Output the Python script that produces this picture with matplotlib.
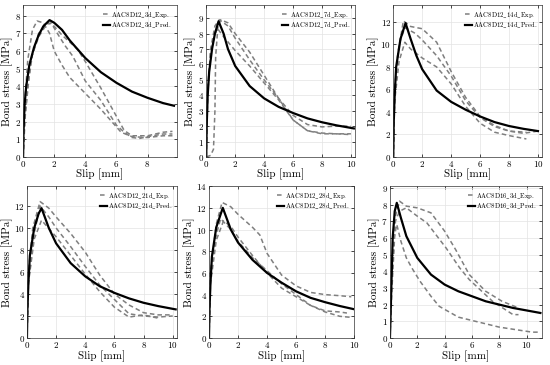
import matplotlib.pyplot as plt

plt.rcParams['font.family'] = ['cmr10', 'DejaVu Serif']
plt.rcParams['mathtext.fontset'] = 'cm'
plt.rcParams['axes.formatter.use_mathtext'] = True

# ---- panel 1: AAC8D12 3d ----
p1_pred_x = [0, 0.03, 0.1, 0.2, 0.4, 0.7, 1.0, 1.3, 1.7, 2.0, 2.5, 3.0, 4.0, 5.0, 6.0, 7.0, 8.0, 9.0, 9.7]
p1_pred_y = [0, 1.5, 3.0, 4.0, 5.2, 6.2, 6.9, 7.4, 7.75, 7.6, 7.2, 6.6, 5.6, 4.8, 4.2, 3.7, 3.35, 3.05, 2.9]
p1_e1_x = [0, 0.1, 0.3, 0.6, 0.9, 1.3, 1.7, 2.0, 2.5, 3.0, 4.0, 5.0, 5.8, 6.3, 7.0, 8.0, 9.0, 9.6]
p1_e1_y = [0, 3.0, 5.5, 7.2, 7.7, 7.6, 7.0, 6.0, 5.2, 4.5, 3.6, 2.7, 1.9, 1.4, 1.15, 1.1, 1.2, 1.2]
p1_e2_x = [0, 0.1, 0.3, 0.6, 1.0, 1.5, 1.8, 2.2, 2.7, 3.2, 4.0, 5.0, 6.0, 6.5, 7.0, 7.5, 8.0, 9.0, 9.6]
p1_e2_y = [0, 2.0, 4.0, 5.8, 6.8, 7.5, 7.6, 7.0, 6.3, 5.7, 4.3, 3.2, 1.8, 1.4, 1.1, 1.05, 1.15, 1.3, 1.3]
p1_e3_x = [0, 0.15, 0.5, 1.0, 1.6, 2.0, 2.5, 3.0, 3.5, 4.0, 5.0, 5.5, 6.0, 6.5, 7.0, 8.0, 9.0, 9.6]
p1_e3_y = [0, 2.5, 5.5, 7.0, 7.6, 7.4, 6.9, 6.5, 6.1, 5.4, 3.9, 3.1, 2.3, 1.5, 1.2, 1.2, 1.4, 1.45]

# ---- panel 2: AAC8D12 7d ----
p2_pred_x = [0, 0.03, 0.1, 0.2, 0.4, 0.6, 0.85, 1.2, 1.5, 2.0, 3.0, 4.0, 5.0, 6.0, 7.0, 8.0, 9.0, 10.2]
p2_pred_y = [0, 2.0, 4.0, 5.5, 7.0, 8.0, 8.8, 8.0, 7.0, 5.9, 4.6, 3.8, 3.25, 2.85, 2.5, 2.25, 2.05, 1.85]
p2_e1_x = [0, 0.3, 0.5, 0.6, 0.65, 0.8, 1.0, 1.5, 2.0, 3.0, 4.0, 5.0, 6.0, 7.0, 8.0, 9.0, 10.0]
p2_e1_y = [0, 0.1, 0.5, 3.0, 6.5, 8.4, 8.9, 8.7, 8.0, 6.8, 5.3, 3.8, 2.4, 1.7, 1.55, 1.5, 1.45]
p2_e2_x = [0, 0.1, 0.3, 0.6, 0.9, 1.5, 2.0, 3.0, 4.0, 5.0, 6.0, 7.0, 8.0, 9.0, 10.0]
p2_e2_y = [0, 4.0, 7.0, 8.5, 8.9, 8.5, 7.7, 6.3, 5.0, 3.8, 2.7, 2.1, 1.95, 2.0, 2.0]
p2_e3_x = [0, 0.1, 0.3, 0.6, 0.8, 1.2, 2.0, 3.0, 4.0, 5.0, 6.0, 7.0, 8.0, 9.0, 10.0]
p2_e3_y = [0, 4.5, 6.8, 8.0, 8.3, 7.8, 6.9, 5.9, 4.8, 3.7, 2.4, 1.7, 1.5, 1.5, 1.5]

# ---- panel 3: AAC8D12 14d ----
p3_pred_x = [0, 0.03, 0.1, 0.2, 0.5, 0.85, 1.2, 1.6, 2.0, 3.0, 4.0, 5.0, 6.0, 7.0, 8.0, 9.0, 10.0]
p3_pred_y = [0, 3.0, 5.5, 8.0, 10.5, 11.9, 10.5, 9.0, 7.8, 5.9, 4.9, 4.2, 3.6, 3.1, 2.75, 2.5, 2.3]
p3_e1_x = [0, 0.1, 0.3, 0.7, 1.2, 2.0, 3.0, 4.0, 5.0, 6.0, 7.0, 8.0, 9.0, 10.0]
p3_e1_y = [0, 6.0, 9.0, 12.1, 11.6, 11.4, 10.2, 7.6, 5.3, 3.6, 2.8, 2.3, 2.1, 2.3]
p3_e2_x = [0, 0.1, 0.4, 0.8, 1.5, 2.0, 3.0, 4.0, 5.0, 6.0, 7.0, 8.0, 9.2]
p3_e2_y = [0, 6.0, 10.0, 11.5, 11.0, 10.4, 9.0, 7.2, 5.0, 3.5, 2.7, 2.3, 2.2]
p3_e3_x = [0, 0.1, 0.4, 0.8, 1.2, 2.0, 3.0, 4.0, 5.0, 6.0, 7.0, 8.0, 9.2]
p3_e3_y = [0, 5.0, 8.5, 10.2, 9.6, 8.8, 8.0, 6.5, 4.5, 3.0, 2.2, 1.9, 1.6]

# ---- panel 4: AAC8D12 21d ----
p4_pred_x = [0, 0.03, 0.1, 0.2, 0.5, 0.8, 1.0, 1.5, 2.0, 3.0, 4.0, 5.0, 6.0, 7.0, 8.0, 9.0, 10.2]
p4_pred_y = [0, 2.5, 5.0, 7.5, 10.0, 11.3, 11.8, 10.0, 8.6, 6.8, 5.6, 4.7, 4.1, 3.6, 3.2, 2.9, 2.6]
p4_e1_x = [0, 0.1, 0.4, 0.9, 1.5, 2.0, 3.0, 4.0, 5.0, 6.0, 7.0, 8.0, 9.0, 10.0]
p4_e1_y = [0, 6.0, 10.0, 12.4, 11.8, 11.0, 9.5, 7.8, 5.7, 4.0, 3.0, 2.3, 2.1, 2.1]
p4_e2_x = [0, 0.1, 0.5, 0.9, 1.5, 2.0, 3.0, 4.0, 5.0, 6.0, 7.0, 8.0, 9.0, 10.0]
p4_e2_y = [0, 5.0, 9.5, 12.0, 11.0, 10.0, 8.3, 6.5, 4.8, 3.5, 2.2, 2.0, 1.9, 2.0]
p4_e3_x = [0, 0.1, 0.5, 1.0, 2.0, 3.0, 4.0, 5.0, 6.0, 7.0, 8.0, 9.0]
p4_e3_y = [0, 5.0, 9.0, 10.7, 9.2, 7.5, 5.8, 4.2, 2.8, 1.9, 2.1, 1.8]

# ---- panel 5: AAC8D12 28d ----
p5_pred_x = [0, 0.03, 0.1, 0.2, 0.5, 0.95, 1.5, 2.0, 3.0, 4.0, 5.0, 6.0, 7.0, 8.0, 9.0, 10.0]
p5_pred_y = [0, 2.5, 5.0, 7.5, 10.2, 12.0, 10.0, 8.8, 7.2, 6.0, 5.1, 4.3, 3.7, 3.3, 2.95, 2.65]
p5_e1_x = [0, 0.1, 0.5, 0.9, 1.5, 2.0, 3.0, 3.5, 4.0, 5.0, 6.0, 7.0, 8.0, 9.0, 9.8]
p5_e1_y = [0, 6.0, 10.5, 12.5, 12.1, 11.4, 10.2, 9.5, 7.8, 5.8, 4.8, 4.2, 4.0, 3.9, 3.8]
p5_e2_x = [0, 0.1, 0.5, 0.8, 1.5, 2.0, 3.0, 4.0, 5.0, 6.0, 7.0, 8.0, 9.0, 9.8]
p5_e2_y = [0, 6.0, 9.5, 11.0, 10.0, 8.9, 7.4, 6.2, 5.0, 4.0, 3.0, 2.4, 2.0, 1.9]
p5_e3_x = [0, 0.1, 0.5, 1.0, 1.5, 2.0, 3.0, 4.0, 5.0, 6.0, 7.0, 8.0, 9.0, 9.5]
p5_e3_y = [0, 5.0, 9.0, 10.8, 10.3, 9.3, 7.6, 6.0, 4.6, 3.8, 3.0, 2.5, 2.4, 2.3]

# ---- panel 6: AAC8D16 3d ----
p6_pred_x = [0, 0.05, 0.1, 0.2, 0.35, 0.5, 0.8, 1.2, 2.0, 3.0, 4.0, 5.0, 6.0, 7.0, 8.0, 9.0, 10.0, 11.0]
p6_pred_y = [0, 1.5, 3.0, 6.0, 7.6, 8.1, 7.2, 6.1, 4.8, 3.8, 3.2, 2.8, 2.5, 2.2, 2.0, 1.8, 1.65, 1.5]
p6_e1_x = [0, 0.1, 0.3, 0.7, 1.2, 2.0, 3.0, 4.0, 4.8, 5.8, 7.0, 8.2, 9.4]
p6_e1_y = [0, 3.0, 7.0, 8.2, 7.9, 7.8, 7.5, 6.4, 5.3, 3.8, 2.8, 2.2, 1.8]
p6_e2_x = [0, 0.15, 0.4, 0.7, 1.2, 2.0, 2.7, 4.1, 5.1, 5.8, 7.5, 9.0, 9.4]
p6_e2_y = [0, 3.0, 7.0, 7.6, 7.8, 7.3, 6.9, 5.4, 4.2, 3.5, 2.2, 1.4, 1.4]
p6_e3_x = [0, 0.1, 0.3, 0.5, 0.8, 1.2, 1.6, 2.2, 3.0, 3.6, 5.0, 6.5, 8.0, 10.4, 11.0]
p6_e3_y = [0, 3.0, 6.0, 6.8, 5.8, 4.8, 4.2, 3.4, 2.5, 1.9, 1.25, 0.95, 0.65, 0.35, 0.35]

names = ['AAC8D12_3d', 'AAC8D12_7d', 'AAC8D12_14d', 'AAC8D12_21d', 'AAC8D12_28d', 'AAC8D16_3d']
preds = [(p1_pred_x, p1_pred_y), (p2_pred_x, p2_pred_y), (p3_pred_x, p3_pred_y),
         (p4_pred_x, p4_pred_y), (p5_pred_x, p5_pred_y), (p6_pred_x, p6_pred_y)]
exps = [
    [(p1_e1_x, p1_e1_y), (p1_e2_x, p1_e2_y), (p1_e3_x, p1_e3_y)],
    [(p2_e1_x, p2_e1_y), (p2_e2_x, p2_e2_y), (p2_e3_x, p2_e3_y)],
    [(p3_e1_x, p3_e1_y), (p3_e2_x, p3_e2_y), (p3_e3_x, p3_e3_y)],
    [(p4_e1_x, p4_e1_y), (p4_e2_x, p4_e2_y), (p4_e3_x, p4_e3_y)],
    [(p5_e1_x, p5_e1_y), (p5_e2_x, p5_e2_y), (p5_e3_x, p5_e3_y)],
    [(p6_e1_x, p6_e1_y), (p6_e2_x, p6_e2_y), (p6_e3_x, p6_e3_y)],
]
x_max = [9.9, 10.3, 10.3, 10.3, 10.0, 11.1]
y_max = [8.6, 9.85, 13.5, 13.8, 14.0, 9.1]
y_step = [1, 1, 2, 2, 2, 1]

# axes boxes in figure fractions (left, bottom, width, height)
boxes = [
    (0.042, 0.570, 0.280, 0.416),
    (0.375, 0.570, 0.271, 0.416),
    (0.715, 0.570, 0.271, 0.416),
    (0.049, 0.074, 0.273, 0.416),
    (0.380, 0.074, 0.264, 0.416),
    (0.709, 0.074, 0.276, 0.416),
]


def tex_label(s):
    # underscores need the math font; cmr10 has no '_' glyph
    return r'$\mathrm{' + s.replace('_', r'\_') + '}$'


fig = plt.figure(figsize=(5.5, 3.65), dpi=100)

for i in range(6):
    ax = fig.add_axes(boxes[i])
    for j, (ex, ey) in enumerate(exps[i]):
        ax.plot(ex, ey, color='#7f7f7f', linestyle=(0, (3, 2)), linewidth=1.1,
                label=tex_label(names[i] + '_Exp.') if j == 0 else None)
    ax.plot(preds[i][0], preds[i][1], color='black', linewidth=1.6,
            label=tex_label(names[i] + '_Pred.'))

    ax.set_xlim(0, x_max[i])
    ax.set_ylim(0, y_max[i])
    ax.set_xticks(range(0, int(x_max[i]) + 1, 2))
    ax.set_yticks(range(0, int(y_max[i]) + 1, y_step[i]))
    ax.tick_params(direction='in', labelsize=6.5, length=2, width=0.5,
                   top=True, right=True, pad=1.5)
    ax.grid(True, color='#e3e3e3', linewidth=0.5)
    for s in ax.spines.values():
        s.set_linewidth(0.5)
        s.set_color('#333333')
    ax.set_xlabel('Slip [mm]', fontsize=8, labelpad=0)
    ax.set_ylabel('Bond stress [MPa]', fontsize=8, labelpad=1)
    ax.legend(loc='upper right', fontsize=4.8, frameon=False, handlelength=1.0,
              handletextpad=0.2, borderaxespad=0.3, labelspacing=0.1)

plt.savefig('out.png', dpi=100)
